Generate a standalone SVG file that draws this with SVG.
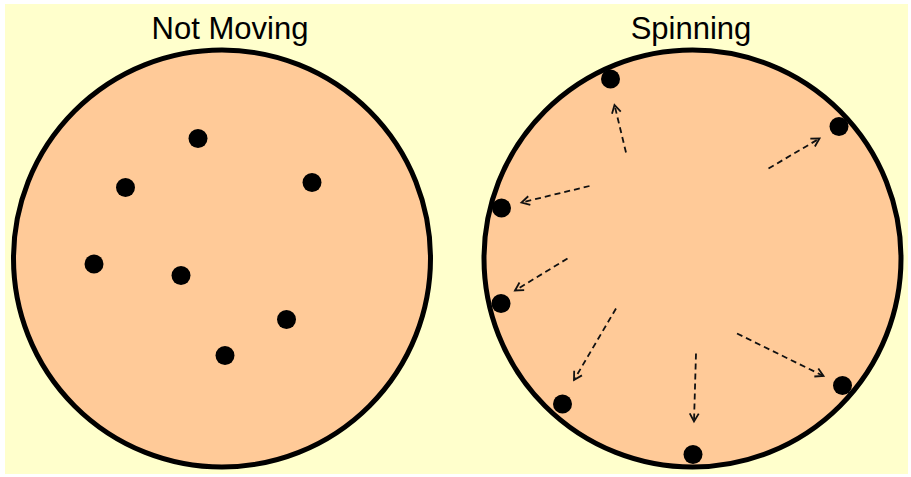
<svg xmlns="http://www.w3.org/2000/svg" width="911" height="477" viewBox="0 0 911 477">
<defs>
<style>
.disc{fill:#FFCA98;stroke:#000;stroke-width:5}
.dot{fill:#000}
.lbl{font-family:"Liberation Sans",Arial,sans-serif;font-size:31px;fill:#000;text-anchor:middle}
.arr{stroke:#111;stroke-width:1.8;fill:none;stroke-dasharray:6 4;marker-end:url(#head)}
</style>
<marker id="head" markerUnits="userSpaceOnUse" markerWidth="12" markerHeight="12" refX="9" refY="5" orient="auto" overflow="visible">
<path d="M1,0.5 L9,5 L1,9.5" fill="none" stroke="#111" stroke-width="1.8" stroke-dasharray="none"/>
</marker>
</defs>
<rect x="0" y="0" width="911" height="477" fill="#fff"/>
<rect x="5" y="4" width="903" height="470" fill="#FFFFCC"/>
<g id="not-moving">
<text class="lbl" x="230" y="39">Not Moving</text>
<circle class="disc" cx="222" cy="258.5" r="208.5"/>
<circle class="dot" cx="198" cy="138.5" r="9.5"/>
<circle class="dot" cx="125.5" cy="187.5" r="9.5"/>
<circle class="dot" cx="312" cy="182.5" r="9.5"/>
<circle class="dot" cx="94" cy="264" r="9.5"/>
<circle class="dot" cx="181" cy="275.5" r="9.5"/>
<circle class="dot" cx="286.5" cy="319.5" r="9.5"/>
<circle class="dot" cx="225" cy="355.5" r="9.5"/>
</g>
<g id="spinning">
<text class="lbl" x="691" y="39">Spinning</text>
<circle class="disc" cx="692.5" cy="258.5" r="208.5"/>
<circle class="dot" cx="610.5" cy="79" r="9.5"/>
<circle class="dot" cx="839" cy="126.5" r="9.5"/>
<circle class="dot" cx="501.5" cy="208" r="9.5"/>
<circle class="dot" cx="501" cy="303.5" r="9.5"/>
<circle class="dot" cx="562.5" cy="404" r="9.5"/>
<circle class="dot" cx="693" cy="454.5" r="9.5"/>
<circle class="dot" cx="842.5" cy="385.5" r="9.5"/>
</g>
<g id="connectors">
<line class="arr" x1="626" y1="152.5" x2="614.5" y2="105"/>
<line class="arr" x1="589.5" y1="186" x2="521.5" y2="202.5"/>
<line class="arr" x1="768.5" y1="168.5" x2="819.5" y2="138.5"/>
<line class="arr" x1="567.5" y1="258.5" x2="515" y2="290.5"/>
<line class="arr" x1="616" y1="308.5" x2="574" y2="380"/>
<line class="arr" x1="696" y1="353.5" x2="694" y2="421.5"/>
<line class="arr" x1="737" y1="333.5" x2="823.5" y2="376"/>
</g>
</svg>
